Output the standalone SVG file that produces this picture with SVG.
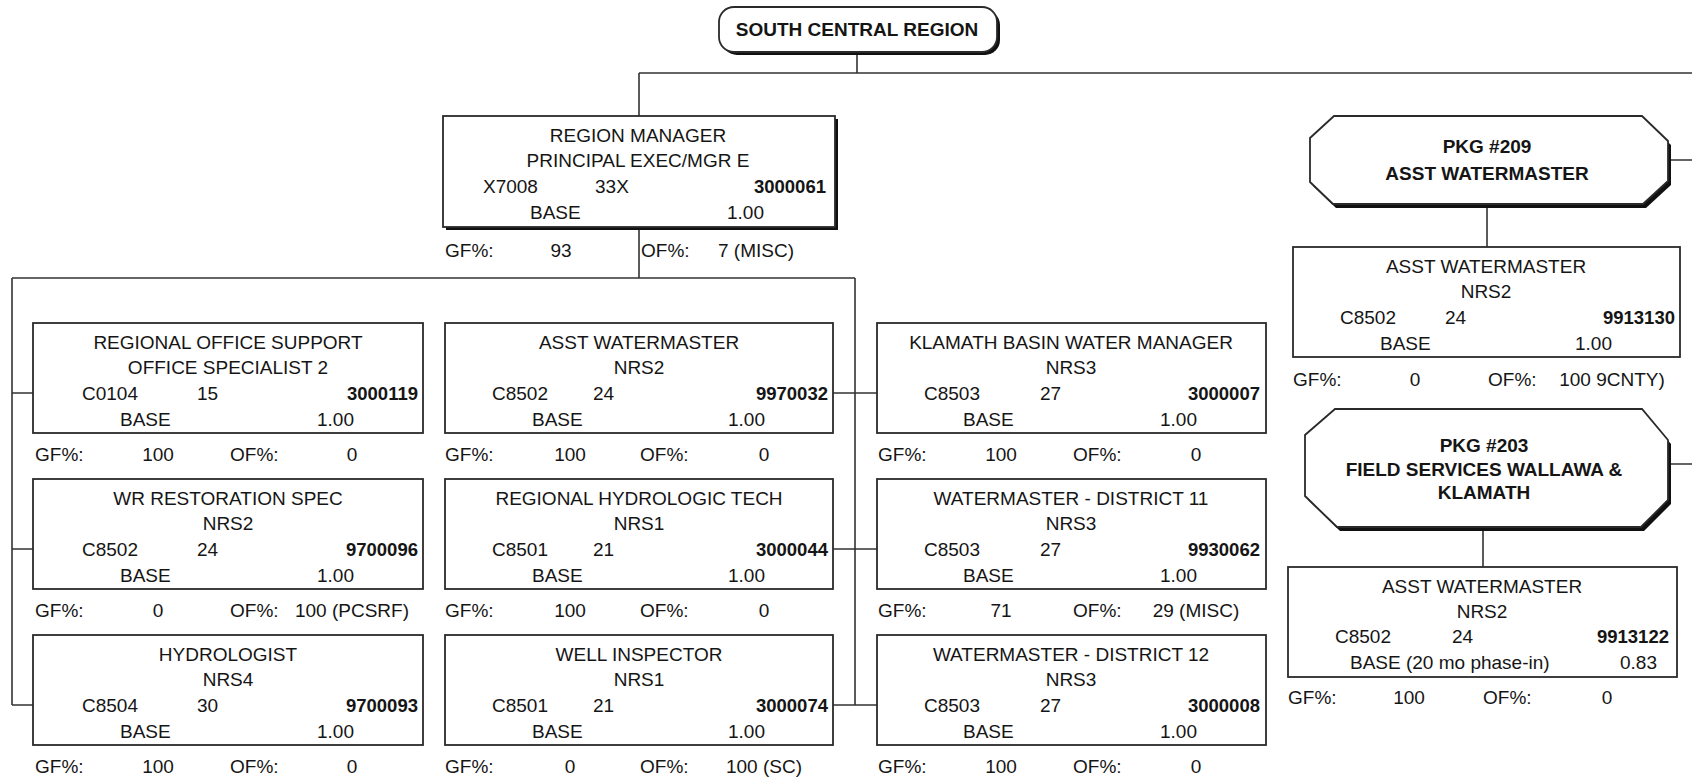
<svg xmlns="http://www.w3.org/2000/svg" width="1692" height="778" viewBox="0 0 1692 778">
<style>
text{font-family:"Liberation Sans",Arial,sans-serif;font-size:19px;fill:#151515}
.c{text-anchor:middle}
.e{text-anchor:end}
.b{font-weight:bold}
.n{font-weight:bold;font-size:18.5px;text-anchor:end}
.box{fill:#fff;stroke:#2a2a2a;stroke-width:1.8}
.sh{fill:#111}
.ln{fill:none;stroke:#333;stroke-width:1.6}
</style>
<rect width="1692" height="778" fill="#fff"/>

<g id="connectors" class="ln">
<path d="M857 53V73M639 73H1692M639 73V116M639 230V278M12 278H855M12 278V705M12 393H33M12 549H33M12 705H33M855 278V705M833 393H877M833 549H877M833 705H877M1487 206V247M1670 160H1692M1483 529V567M1670 464H1692"/>
</g>

<g id="south-central-region">
<rect class="sh" x="722" y="10" width="278" height="45" rx="15"/>
<rect class="box" x="719" y="7" width="278" height="45" rx="15"/>
<text class="c b" x="857" y="36">SOUTH CENTRAL REGION</text>
</g>

<g id="region-manager">
<rect class="sh" x="446" y="119" width="392" height="111"/>
<rect class="box" x="443" y="116" width="392" height="111"/>
<text class="c" x="638" y="142">REGION MANAGER</text>
<text class="c" x="638" y="167">PRINCIPAL EXEC/MGR E</text>
<text x="483" y="193">X7008</text>
<text x="595" y="193">33X</text>
<text class="n" x="826" y="193">3000061</text>
<text x="530" y="219">BASE</text>
<text class="e" x="764" y="219">1.00</text>
<text x="445" y="257">GF%:</text>
<text class="c" x="561" y="257">93</text>
<text x="641" y="257">OF%:</text>
<text x="718" y="257">7 (MISC)</text>
</g>

<g id="regional-office-support">
<rect class="box" x="33" y="323" width="390" height="110"/>
<text class="c" x="228" y="349">REGIONAL OFFICE SUPPORT</text>
<text class="c" x="228" y="374">OFFICE SPECIALIST 2</text>
<text x="82" y="400">C0104</text><text x="197" y="400">15</text><text class="n" x="418" y="400">3000119</text>
<text x="120" y="426">BASE</text><text class="e" x="354" y="426">1.00</text>
<text x="35" y="461">GF%:</text><text class="c" x="158" y="461">100</text><text x="230" y="461">OF%:</text><text class="c" x="352" y="461">0</text>
</g>

<g id="wr-restoration-spec">
<rect class="box" x="33" y="479" width="390" height="110"/>
<text class="c" x="228" y="505">WR RESTORATION SPEC</text>
<text class="c" x="228" y="530">NRS2</text>
<text x="82" y="556">C8502</text><text x="197" y="556">24</text><text class="n" x="418" y="556">9700096</text>
<text x="120" y="582">BASE</text><text class="e" x="354" y="582">1.00</text>
<text x="35" y="617">GF%:</text><text class="c" x="158" y="617">0</text><text x="230" y="617">OF%:</text><text class="c" x="352" y="617">100 (PCSRF)</text>
</g>

<g id="hydrologist">
<rect class="box" x="33" y="635" width="390" height="110"/>
<text class="c" x="228" y="661">HYDROLOGIST</text>
<text class="c" x="228" y="686">NRS4</text>
<text x="82" y="712">C8504</text><text x="197" y="712">30</text><text class="n" x="418" y="712">9700093</text>
<text x="120" y="738">BASE</text><text class="e" x="354" y="738">1.00</text>
<text x="35" y="773">GF%:</text><text class="c" x="158" y="773">100</text><text x="230" y="773">OF%:</text><text class="c" x="352" y="773">0</text>
</g>

<g id="asst-watermaster-9970032">
<rect class="box" x="445" y="323" width="388" height="110"/>
<text class="c" x="639" y="349">ASST WATERMASTER</text>
<text class="c" x="639" y="374">NRS2</text>
<text x="492" y="400">C8502</text><text x="593" y="400">24</text><text class="n" x="828" y="400">9970032</text>
<text x="532" y="426">BASE</text><text class="e" x="765" y="426">1.00</text>
<text x="445" y="461">GF%:</text><text class="c" x="570" y="461">100</text><text x="640" y="461">OF%:</text><text class="c" x="764" y="461">0</text>
</g>

<g id="regional-hydrologic-tech">
<rect class="box" x="445" y="479" width="388" height="110"/>
<text class="c" x="639" y="505">REGIONAL HYDROLOGIC TECH</text>
<text class="c" x="639" y="530">NRS1</text>
<text x="492" y="556">C8501</text><text x="593" y="556">21</text><text class="n" x="828" y="556">3000044</text>
<text x="532" y="582">BASE</text><text class="e" x="765" y="582">1.00</text>
<text x="445" y="617">GF%:</text><text class="c" x="570" y="617">100</text><text x="640" y="617">OF%:</text><text class="c" x="764" y="617">0</text>
</g>

<g id="well-inspector">
<rect class="box" x="445" y="635" width="388" height="110"/>
<text class="c" x="639" y="661">WELL INSPECTOR</text>
<text class="c" x="639" y="686">NRS1</text>
<text x="492" y="712">C8501</text><text x="593" y="712">21</text><text class="n" x="828" y="712">3000074</text>
<text x="532" y="738">BASE</text><text class="e" x="765" y="738">1.00</text>
<text x="445" y="773">GF%:</text><text class="c" x="570" y="773">0</text><text x="640" y="773">OF%:</text><text class="c" x="764" y="773">100 (SC)</text>
</g>

<g id="klamath-basin-water-manager">
<rect class="box" x="877" y="323" width="389" height="110"/>
<text class="c" x="1071" y="349">KLAMATH BASIN WATER MANAGER</text>
<text class="c" x="1071" y="374">NRS3</text>
<text x="924" y="400">C8503</text><text x="1040" y="400">27</text><text class="n" x="1260" y="400">3000007</text>
<text x="963" y="426">BASE</text><text class="e" x="1197" y="426">1.00</text>
<text x="878" y="461">GF%:</text><text class="c" x="1001" y="461">100</text><text x="1073" y="461">OF%:</text><text class="c" x="1196" y="461">0</text>
</g>

<g id="watermaster-district-11">
<rect class="box" x="877" y="479" width="389" height="110"/>
<text class="c" x="1071" y="505">WATERMASTER - DISTRICT 11</text>
<text class="c" x="1071" y="530">NRS3</text>
<text x="924" y="556">C8503</text><text x="1040" y="556">27</text><text class="n" x="1260" y="556">9930062</text>
<text x="963" y="582">BASE</text><text class="e" x="1197" y="582">1.00</text>
<text x="878" y="617">GF%:</text><text class="c" x="1001" y="617">71</text><text x="1073" y="617">OF%:</text><text class="c" x="1196" y="617">29 (MISC)</text>
</g>

<g id="watermaster-district-12">
<rect class="box" x="877" y="635" width="389" height="110"/>
<text class="c" x="1071" y="661">WATERMASTER - DISTRICT 12</text>
<text class="c" x="1071" y="686">NRS3</text>
<text x="924" y="712">C8503</text><text x="1040" y="712">27</text><text class="n" x="1260" y="712">3000008</text>
<text x="963" y="738">BASE</text><text class="e" x="1197" y="738">1.00</text>
<text x="878" y="773">GF%:</text><text class="c" x="1001" y="773">100</text><text x="1073" y="773">OF%:</text><text class="c" x="1196" y="773">0</text>
</g>

<g id="pkg-209">
<polygon class="sh" points="1337,120 1645,120 1671,145 1671,185 1646,208 1336,208 1313,186 1313,142"/>
<polygon class="box" points="1334,116 1642,116 1668,141 1668,181 1643,204 1333,204 1310,182 1310,138"/>
<text class="c b" x="1487" y="153">PKG #209</text>
<text class="c b" x="1487" y="180">ASST WATERMASTER</text>
</g>

<g id="asst-watermaster-9913130">
<rect class="box" x="1293" y="247" width="387" height="110"/>
<text class="c" x="1486" y="273">ASST WATERMASTER</text>
<text class="c" x="1486" y="298">NRS2</text>
<text x="1340" y="324">C8502</text><text x="1445" y="324">24</text><text class="n" x="1675" y="324">9913130</text>
<text x="1380" y="350">BASE</text><text class="e" x="1612" y="350">1.00</text>
<text x="1293" y="386">GF%:</text><text class="c" x="1415" y="386">0</text><text x="1488" y="386">OF%:</text><text class="c" x="1612" y="386">100 9CNTY)</text>
</g>

<g id="pkg-203">
<polygon class="sh" points="1338,413 1645,413 1671,444 1671,504 1644,531 1340,531 1308,500 1308,439"/>
<polygon class="box" points="1335,409 1642,409 1668,440 1668,500 1641,527 1337,527 1305,496 1305,435"/>
<text class="c b" x="1484" y="452">PKG #203</text>
<text class="c b" x="1484" y="476">FIELD SERVICES WALLAWA &amp;</text>
<text class="c b" x="1484" y="499">KLAMATH</text>
</g>

<g id="asst-watermaster-9913122">
<rect class="box" x="1288" y="567" width="389" height="110"/>
<text class="c" x="1482" y="593">ASST WATERMASTER</text>
<text class="c" x="1482" y="618">NRS2</text>
<text x="1335" y="643">C8502</text><text x="1452" y="643">24</text><text class="n" x="1669" y="643">9913122</text>
<text x="1350" y="669">BASE (20 mo phase-in)</text><text class="e" x="1657" y="669">0.83</text>
<text x="1288" y="704">GF%:</text><text class="c" x="1409" y="704">100</text><text x="1483" y="704">OF%:</text><text class="c" x="1607" y="704">0</text>
</g>
</svg>
